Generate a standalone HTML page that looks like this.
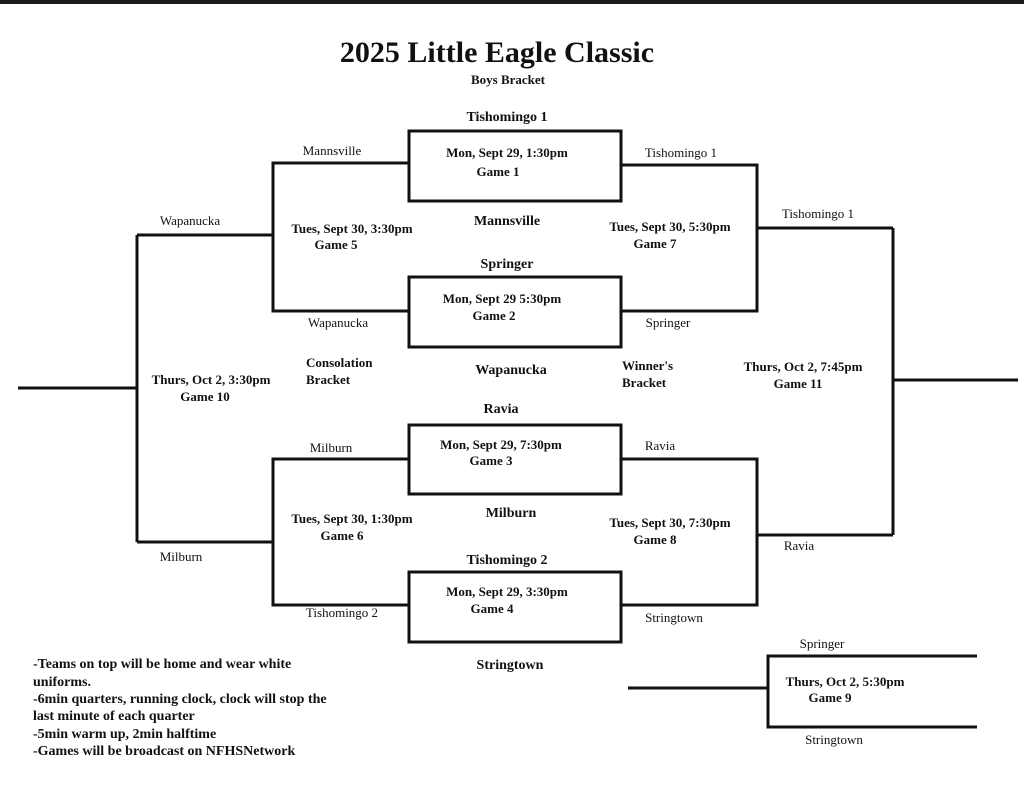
<!DOCTYPE html>
<html><head><style>
html,body{margin:0;padding:0;background:#fff;}
svg{display:block;}
text{font-family:"Liberation Serif",serif;fill:#111;}
.b{font-weight:bold;}
</style></head><body>
<svg width="1024" height="794" viewBox="0 0 1024 794" xmlns="http://www.w3.org/2000/svg">
<rect x="0" y="0" width="1024" height="794" fill="#fff"/>
<rect x="0" y="0" width="1024" height="4" fill="#1a1a1a"/>
<g stroke="#111" stroke-width="3" fill="none">
<rect x="409" y="131" width="212" height="70"/>
<rect x="409" y="277" width="212" height="70"/>
<rect x="409" y="425" width="212" height="69"/>
<rect x="409" y="572" width="212" height="70"/>
<polyline points="409,163 273,163 273,311 409,311"/>
<polyline points="409,459 273,459 273,605 409,605"/>
<line x1="137" y1="235" x2="273" y2="235"/>
<line x1="137" y1="542" x2="273" y2="542"/>
<polyline points="137,235 137,542"/>
<line x1="18" y1="388" x2="137" y2="388"/>
<polyline points="621,165 757,165 757,311 621,311"/>
<polyline points="621,459 757,459 757,605 621,605"/>
<line x1="757" y1="228" x2="893" y2="228"/>
<line x1="757" y1="535" x2="893" y2="535"/>
<line x1="893" y1="228" x2="893" y2="535"/>
<line x1="893" y1="380" x2="1018" y2="380"/>
<line x1="628" y1="688" x2="768" y2="688"/>
<polyline points="977,656 768,656 768,727 977,727"/>
</g>
<text x="497" y="62" class="b" font-size="30" text-anchor="middle">2025 Little Eagle Classic</text>
<text x="508" y="84" class="b" font-size="13" text-anchor="middle">Boys Bracket</text>
<g class="b" font-size="14" text-anchor="middle">
<text x="507" y="121" class="b">Tishomingo 1</text>
<text x="507" y="225" class="b">Mannsville</text>
<text x="507" y="268" class="b">Springer</text>
<text x="511" y="374" class="b">Wapanucka</text>
<text x="501" y="413" class="b">Ravia</text>
<text x="511" y="517" class="b">Milburn</text>
<text x="507" y="564" class="b">Tishomingo 2</text>
<text x="510" y="669" class="b">Stringtown</text>
</g>
<g font-size="13" text-anchor="middle">
<text x="507" y="157" class="b">Mon, Sept 29, 1:30pm</text><text x="498" y="176" class="b">Game 1</text>
<text x="502" y="303" class="b">Mon, Sept 29 5:30pm</text><text x="494" y="320" class="b">Game 2</text>
<text x="501" y="449" class="b">Mon, Sept 29, 7:30pm</text><text x="491" y="465" class="b">Game 3</text>
<text x="507" y="596" class="b">Mon, Sept 29, 3:30pm</text><text x="492" y="613" class="b">Game 4</text>
<text x="352" y="233" class="b">Tues, Sept 30, 3:30pm</text><text x="336" y="249" class="b">Game 5</text>
<text x="352" y="523" class="b">Tues, Sept 30, 1:30pm</text><text x="342" y="540" class="b">Game 6</text>
<text x="670" y="231" class="b">Tues, Sept 30, 5:30pm</text><text x="655" y="248" class="b">Game 7</text>
<text x="670" y="527" class="b">Tues, Sept 30, 7:30pm</text><text x="655" y="544" class="b">Game 8</text>
<text x="211" y="384" class="b">Thurs, Oct 2, 3:30pm</text><text x="205" y="401" class="b">Game 10</text>
<text x="803" y="371" class="b">Thurs, Oct 2, 7:45pm</text><text x="798" y="388" class="b">Game 11</text>
<text x="845" y="686" class="b">Thurs, Oct 2, 5:30pm</text><text x="830" y="702" class="b">Game 9</text>
<text x="332" y="155">Mannsville</text>
<text x="338" y="327">Wapanucka</text>
<text x="331" y="452">Milburn</text>
<text x="342" y="617">Tishomingo 2</text>
<text x="190" y="225">Wapanucka</text>
<text x="181" y="561">Milburn</text>
<text x="681" y="157">Tishomingo 1</text>
<text x="668" y="327">Springer</text>
<text x="660" y="450">Ravia</text>
<text x="674" y="622">Stringtown</text>
<text x="818" y="218">Tishomingo 1</text>
<text x="799" y="550">Ravia</text>
<text x="822" y="648">Springer</text>
<text x="834" y="744">Stringtown</text>
</g>
<g font-size="13" class="b">
<text x="306" y="367" class="b">Consolation</text><text x="306" y="384" class="b">Bracket</text>
<text x="622" y="370" class="b">Winner's</text><text x="622" y="387" class="b">Bracket</text>
</g>
<g font-size="14" class="b">
<text x="33" y="668" class="b">-Teams on top will be home and wear white</text>
<text x="33" y="686" class="b">uniforms.</text>
<text x="33" y="703" class="b">-6min quarters, running clock, clock will stop the</text>
<text x="33" y="720" class="b">last minute of each quarter</text>
<text x="33" y="738" class="b">-5min warm up, 2min halftime</text>
<text x="33" y="755" class="b">-Games will be broadcast on NFHSNetwork</text>
</g>
</svg>
</body></html>
